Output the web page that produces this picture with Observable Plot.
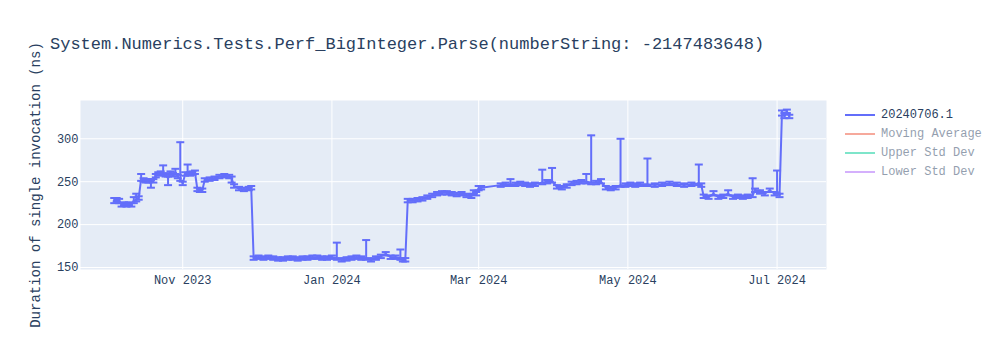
<!DOCTYPE html>
<html>
<head>
<meta charset="utf-8">
<script src="https://cdn.jsdelivr.net/npm/d3@7"></script>
<script src="https://cdn.jsdelivr.net/npm/@observablehq/plot@0.6"></script>
<style>
  html, body { margin: 0; padding: 0; background: white; }
  #wrap { position: relative; width: 1000px; height: 350px; font-family: "Liberation Mono", "Courier New", monospace; color: #2a3f5f; }
  #title { position: absolute; left: 50px; top: 35px; font-size: 17px; white-space: nowrap; }
  #legend { position: absolute; left: 845px; top: 105px; font-size: 12px; }
  .item { display: flex; align-items: center; height: 19px; }
  .item svg { margin-right: 6px; }
</style>
</head>
<body>
<div id="wrap">
  <div id="chart"></div>
  <div id="title"></div>
  <div id="legend"></div>
</div>
<script>
const title = "System.Numerics.Tests.Perf_BigInteger.Parse(numberString: -2147483648)";
const yLabel = "Duration of single invocation (ns)";
const seriesNames = ["20240706.1", "Moving Average", "Upper Std Dev", "Lower Std Dev"];
const seriesColors = ["#636efa", "#EF553B", "#00cc96", "#ab63fa"];
const seriesVisible = [true, false, false, false];
const xTicks = ["2023-11-01", "2024-01-01", "2024-03-01", "2024-05-01", "2024-07-01"];
const yTicks = [150, 200, 250, 300];

const dates = [
  "2023-10-04","2023-10-05","2023-10-06","2023-10-07","2023-10-08","2023-10-09","2023-10-10","2023-10-11","2023-10-12","2023-10-13",
  "2023-10-14","2023-10-15","2023-10-16","2023-10-17","2023-10-18","2023-10-19","2023-10-20","2023-10-21","2023-10-22","2023-10-23",
  "2023-10-24","2023-10-25","2023-10-26","2023-10-27","2023-10-28","2023-10-29","2023-10-30","2023-10-31","2023-11-01","2023-11-02",
  "2023-11-03","2023-11-04","2023-11-05","2023-11-06","2023-11-07","2023-11-08","2023-11-09","2023-11-10","2023-11-12","2023-11-14",
  "2023-11-16","2023-11-18","2023-11-20","2023-11-21","2023-11-22","2023-11-24","2023-11-26","2023-11-28","2023-11-29","2023-11-30",
  "2023-12-02","2023-12-04","2023-12-06","2023-12-08","2023-12-10","2023-12-12","2023-12-14","2023-12-16","2023-12-18","2023-12-20",
  "2023-12-22","2023-12-24","2023-12-26","2023-12-28","2023-12-30","2024-01-01","2024-01-03","2024-01-05","2024-01-07","2024-01-09",
  "2024-01-11","2024-01-13","2024-01-15","2024-01-17","2024-01-19","2024-01-21","2024-01-23","2024-01-25","2024-01-27","2024-01-29",
  "2024-01-30","2024-01-31","2024-02-01","2024-02-03","2024-02-05","2024-02-07","2024-02-09","2024-02-11","2024-02-13","2024-02-15",
  "2024-02-17","2024-02-19","2024-02-21","2024-02-23","2024-02-25","2024-02-27","2024-02-28","2024-02-29","2024-03-01","2024-03-02",
  "2024-03-10","2024-03-12","2024-03-14","2024-03-16","2024-03-18","2024-03-20","2024-03-22","2024-03-24","2024-03-27","2024-03-29",
  "2024-03-31","2024-04-02","2024-04-04","2024-04-06","2024-04-08","2024-04-10","2024-04-12","2024-04-14","2024-04-16","2024-04-18",
  "2024-04-20","2024-04-22","2024-04-24","2024-04-26","2024-04-28","2024-04-30","2024-05-02","2024-05-04","2024-05-06","2024-05-09",
  "2024-05-12","2024-05-15","2024-05-18","2024-05-21","2024-05-24","2024-05-27","2024-05-30","2024-05-31","2024-06-01","2024-06-03",
  "2024-06-05","2024-06-07","2024-06-09","2024-06-11","2024-06-13","2024-06-15","2024-06-17","2024-06-19","2024-06-21","2024-06-22",
  "2024-06-24","2024-06-26","2024-06-28","2024-06-30","2024-07-01","2024-07-02","2024-07-03","2024-07-04","2024-07-05","2024-07-06"
];
const values = [
  228,229,228,223,224,223,224,223,227,229,
  231,253,252,251,251,250,251,257,259,260,
  260,258,254,260,258,261,256,253,248,259,
  260,259,260,261,241,240,240,252,253,254,
  256,257,256,254,245,242,241,242,243,161,
  162,161,162,161,160,160,161,161,160,161,
  161,162,162,161,161,162,161,159,160,161,
  162,161,161,159,161,163,166,162,162,161,
  159,159,228,228,229,230,232,234,236,237,
  237,236,235,236,234,233,238,236,242,243,
  246,247,247,247,248,247,246,247,249,250,
  251,244,243,245,248,249,250,250,249,249,
  250,243,242,243,246,246,247,246,247,247,
  246,247,248,247,246,247,248,246,233,232,
  236,232,233,236,232,233,232,233,234,240,
  238,236,240,236,238,234,330,327,332,326
];
const errUp = [
  3,2,2,2,2,2,2,2,5,7,
  2,6,2,2,2,2,2,2,2,2,
  9,2,2,2,2,4,2,43,2,2,
  10,2,2,2,2,2,2,2,2,2,
  2,2,2,2,2,2,2,2,2,2,
  2,2,2,2,2,2,2,2,2,2,
  2,2,2,2,2,2,18,2,2,2,
  2,2,21,2,2,2,2,2,2,10,
  2,2,2,2,2,2,2,2,2,2,
  2,2,2,2,2,2,2,2,3,2,
  2,2,6,2,2,2,2,2,15,2,
  15,2,2,2,2,2,2,9,55,2,
  3,2,2,2,54,2,2,2,2,30,
  2,2,2,2,2,2,22,2,2,2,
  3,2,2,4,2,2,2,2,20,2,
  2,2,2,2,25,2,3,3,2,2
];
const errDown = [
  3,2,3,2,2,2,2,2,2,2,
  2,2,2,2,2,7,2,2,2,2,
  2,2,8,2,2,2,2,2,2,2,
  2,2,2,2,2,2,2,2,2,2,
  2,2,2,5,2,2,2,2,2,2,
  2,2,2,2,2,2,2,2,2,2,
  2,2,2,2,2,2,2,2,2,2,
  2,2,2,2,2,2,2,2,2,2,
  2,2,2,2,2,2,2,2,2,2,
  2,2,2,2,2,2,2,2,2,2,
  2,2,2,2,2,2,2,2,2,2,
  2,2,2,2,2,2,2,2,2,2,
  2,2,2,2,2,2,2,2,2,2,
  2,2,2,2,2,2,2,2,2,2,
  2,2,2,2,2,2,2,2,2,2,
  2,2,2,2,2,2,3,3,2,2
];

const data = dates.map((d, i) => ({
  date: new Date(d),
  value: values[i],
  hi: values[i] + errUp[i],
  lo: values[i] - errDown[i]
}));

const capSymbol = {
  draw(ctx, size) {
    const w = Math.sqrt(size / Math.PI);
    ctx.moveTo(-w, 0);
    ctx.lineTo(w, 0);
  }
};

const color = seriesColors[0];
const xTickDates = xTicks.map(d => new Date(d));

const chart = Plot.plot({
  width: 1000,
  height: 350,
  marginLeft: 80,
  marginRight: 174,
  marginTop: 100,
  marginBottom: 81,
  style: { fontFamily: "Liberation Mono, Courier New, monospace", fontSize: "12px", color: "#2a3f5f", background: "transparent" },
  x: { type: "utc", domain: [new Date("2023-09-20T05:00:00Z"), new Date("2024-07-21T05:00:00Z")] },
  y: { domain: [147.7, 344.6] },
  marks: [
    Plot.frame({ fill: "#e5ecf6", stroke: null }),
    Plot.gridX(xTickDates, { stroke: "white", strokeOpacity: 1, strokeWidth: 1 }),
    Plot.gridY(yTicks, { stroke: "white", strokeOpacity: 1, strokeWidth: 1 }),
    Plot.axisX(xTickDates, { tickSize: 0, tickPadding: 6, tickFormat: d3.utcFormat("%b %Y"), label: null, fill: "#2a3f5f" }),
    Plot.axisY(yTicks, { tickSize: 0, tickPadding: 2, label: null, fill: "#2a3f5f" }),
    Plot.text([yLabel], { frameAnchor: "left", textAnchor: "middle", rotate: -90, dx: -45, fontSize: 14, fill: "#2a3f5f" }),
    Plot.ruleX(data, { x: "date", y1: "lo", y2: "hi", stroke: color, strokeWidth: 2 }),
    Plot.dot(data, { x: "date", y: "hi", symbol: capSymbol, r: 4, stroke: color, strokeWidth: 2, fill: "none" }),
    Plot.dot(data, { x: "date", y: "lo", symbol: capSymbol, r: 4, stroke: color, strokeWidth: 2, fill: "none" }),
    Plot.line(data, { x: "date", y: "value", stroke: color, strokeWidth: 2 })
  ]
});
document.getElementById("chart").appendChild(chart);

document.getElementById("title").textContent = title;
const legend = document.getElementById("legend");
seriesNames.forEach((name, i) => {
  const row = document.createElement("div");
  row.className = "item";
  row.style.opacity = seriesVisible[i] ? 1 : 0.5;
  row.innerHTML = `<svg width="30" height="6"><line x1="0" y1="3" x2="30" y2="3" stroke="${seriesColors[i]}" stroke-width="2"/></svg>`;
  const span = document.createElement("span");
  span.textContent = name;
  row.appendChild(span);
  legend.appendChild(row);
});
</script>
</body>
</html>
